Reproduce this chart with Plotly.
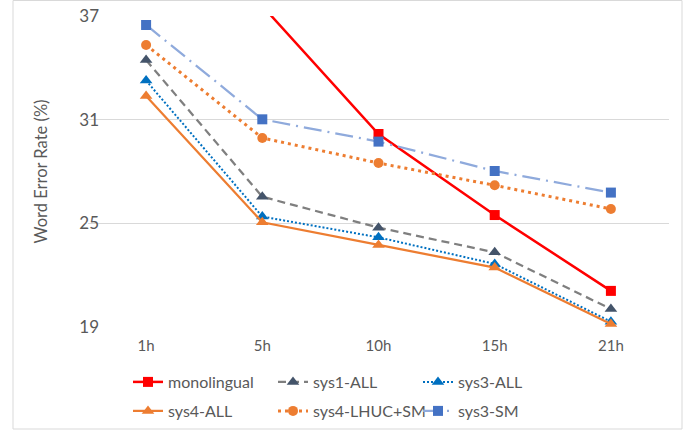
import plotly.graph_objects as go

categories = ["1h", "5h", "10h", "15h", "21h"]
monolingual = [45.0, 37.6, 30.17, 25.48, 21.09]
sys1_all = [34.45, 26.54, 24.75, 23.32, 20.04]
sys3_all = [33.26, 25.39, 24.19, 22.65, 19.31]
sys4_all = [32.37, 25.06, 23.75, 22.44, 19.18]
sys4_lhuc_sm = [35.32, 29.94, 28.49, 27.20, 25.83]
sys3_sm = [36.48, 31.02, 29.73, 28.03, 26.78]
y_ticks = [19, 25, 31, 37]

FONT = "Lato"
W, H = 691, 430
L, R, T, B = 88, 22, 16, 103

fig = go.Figure()

def add(name, y, line_color, dash, width, symbol, mcolor, msize, legend):
    fig.add_trace(go.Scatter(
        x=categories, y=y, name=name, mode="lines+markers",
        line=dict(color=line_color, dash=dash, width=width),
        marker=dict(symbol=symbol, color=mcolor, size=msize, line=dict(width=0)),
        legend=legend, cliponaxis=True,
    ))

add("monolingual", monolingual, "#FF0000", "solid", 2.5, "square", "#FF0000", 10, "legend")
add("sys1-ALL", sys1_all, "#7F7F7F", "8px,5px", 2.25, "triangle-up", "#44546A", 11, "legend")
add("sys3-ALL", sys3_all, "#0070C0", "2px,2px", 2, "triangle-up", "#0070C0", 11, "legend")
add("sys4-ALL", sys4_all, "#ED7D31", "solid", 2.25, "triangle-up", "#ED7D31", 11, "legend2")
add("sys4-LHUC+SM", sys4_lhuc_sm, "#ED7D31", "3px,4px", 3, "circle", "#ED7D31", 10, "legend2")
add("sys3-SM", sys3_sm, "#8FAADC", "18px,6px,2px,6px", 2.25, "square", "#4472C4", 10, "legend2")

pw = W - L - R
ph = H - T - B

leg_common = dict(
    orientation="h", xanchor="left", yanchor="middle",
    font=dict(family=FONT, size=16, color="#595959"),
    bgcolor="rgba(0,0,0,0)", entrywidth=100, entrywidthmode="pixels",
    itemwidth=30, traceorder="normal",
)

fig.update_layout(
    width=W, height=H,
    margin=dict(l=L, r=R, t=T, b=B, pad=0, autoexpand=False),
    paper_bgcolor="white", plot_bgcolor="white",
    font=dict(family=FONT, color="#595959"),
    showlegend=True,
    legend=dict(x=(128 - L) / pw, y=(T + ph - 382) / ph, **leg_common),
    legend2=dict(x=(128 - L) / pw, y=(T + ph - 411) / ph, **leg_common),
    xaxis=dict(
        type="category", range=[-0.5, 4.5], showgrid=False,
        showline=False, ticks="", zeroline=False,
        tickfont=dict(family=FONT, size=15, color="#595959"),
        ticklabelstandoff=8,
    ),
    yaxis=dict(
        range=[19, 37], tickvals=y_ticks, showgrid=True, gridcolor="#D9D9D9",
        gridwidth=1, zeroline=False, showline=False, ticks="",
        tickfont=dict(family=FONT, size=17, color="#595959"),
        ticklabelstandoff=-12,
    ),
    annotations=[dict(
        text="Word Error Rate (%)", textangle=-90, showarrow=False,
        xref="paper", yref="paper", x=(40 - L) / pw, y=0.5,
        xanchor="center", yanchor="middle",
        font=dict(family=FONT, size=16.5, color="#595959"),
    )],
    shapes=[dict(
        type="rect", xref="paper", yref="paper",
        x0=(13 - L) / pw, x1=(682 - L) / pw,
        y0=(T + ph - 429) / ph, y1=(T + ph - 0.5) / ph,
        line=dict(color="#D9D9D9", width=1), fillcolor="rgba(0,0,0,0)", layer="below",
    )],
)

fig.write_html("out.html", config={"displayModeBar": False},
               post_script="document.body.style.margin='0';")
